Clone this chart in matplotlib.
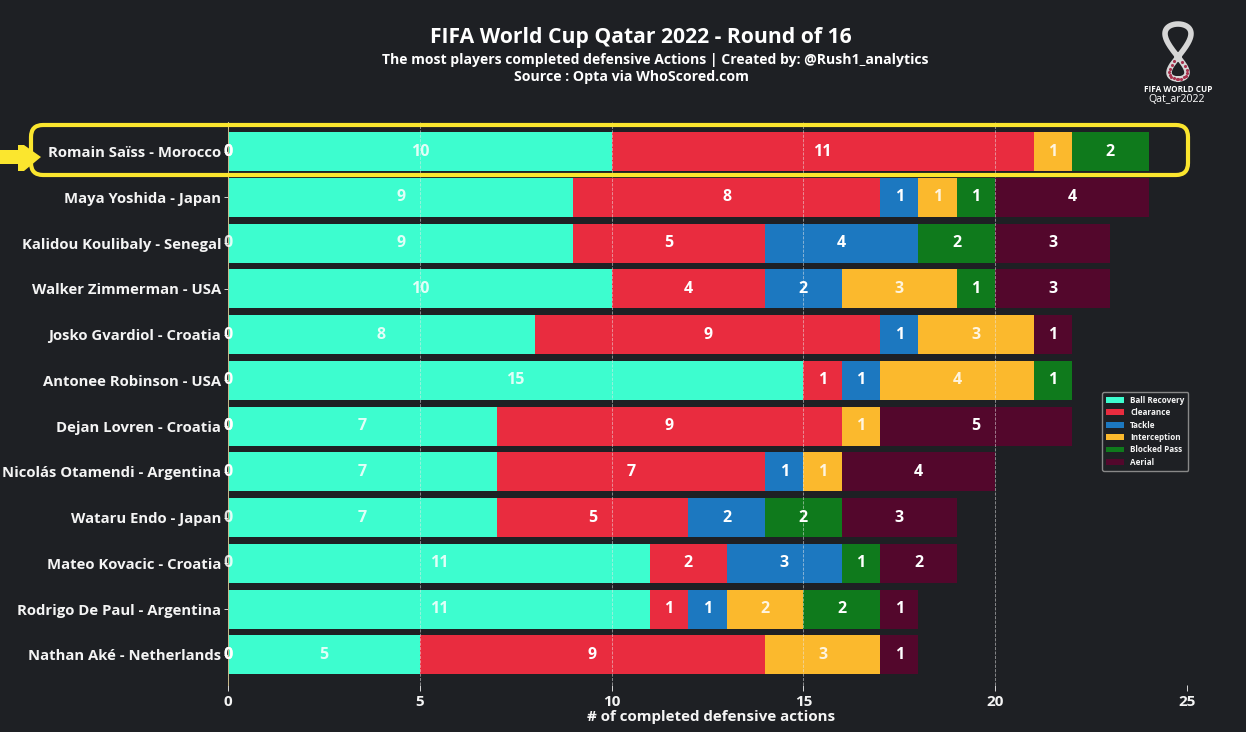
import matplotlib
matplotlib.use('Agg')
import matplotlib.pyplot as plt
import numpy as np
from matplotlib.patches import FancyBboxPatch, Polygon, Rectangle

plt.rcParams['font.family'] = ['Open Sans', 'DejaVu Sans']
plt.rcParams['font.weight'] = 'bold'

players = ["Romain Saïss - Morocco", "Maya Yoshida - Japan", "Kalidou Koulibaly - Senegal",
           "Walker Zimmerman - USA", "Josko Gvardiol - Croatia", "Antonee Robinson - USA",
           "Dejan Lovren - Croatia", "Nicolás Otamendi - Argentina", "Wataru Endo - Japan",
           "Mateo Kovacic - Croatia", "Rodrigo De Paul - Argentina", "Nathan Aké - Netherlands"]
ball_recovery = [10, 9, 9, 10, 8, 15, 7, 7, 7, 11, 11, 5]
clearance = [11, 8, 5, 4, 9, 1, 9, 7, 5, 2, 1, 9]
tackle = [0, 1, 4, 2, 1, 1, 0, 1, 2, 3, 1, 0]
interception = [1, 1, 0, 3, 3, 4, 1, 1, 0, 0, 2, 3]
blocked_pass = [2, 1, 2, 1, 0, 1, 0, 0, 2, 1, 2, 0]
aerial = [0, 4, 3, 3, 1, 0, 5, 4, 3, 2, 1, 1]

action_names = ["Ball Recovery", "Clearance", "Tackle", "Interception", "Blocked Pass", "Aerial"]
action_values = [ball_recovery, clearance, tackle, interception, blocked_pass, aerial]
action_colors = ['#3dfdcf', '#e92c3f', '#1c78c0', '#fbb92d', '#0f7a1c', '#53072c']

W, H = 1246, 732
BG = '#1e2024'
TXT = '#f4f4f4'

fig = plt.figure(figsize=(W / 100, H / 100), dpi=100, facecolor=BG)
# axes box in pixels: x=0 at 228, x=25 at 1187
ax = fig.add_axes([228 / W, 1 - 685 / H, (1187 - 228) / W, (685 - 122) / H], facecolor=BG)

y = np.arange(len(players))
left = np.zeros(len(players))
for name, vals, col in zip(action_names, action_values, action_colors):
    vals = np.array(vals)
    ax.barh(y, vals, left=left, height=0.85, color=col, label=name, linewidth=0)
    for i, v in enumerate(vals):
        xpos = left[i] + v / 2 if v > 0 else 0
        ax.text(xpos, y[i], str(v), color='white', fontsize=11.5, ha='center', va='center',
                alpha=0.85 if col in ('#3dfdcf', '#fbb92d') else 1)
    left += vals

ax.set_xlim(0, 25)
ax.set_ylim(len(players) - 1 + 0.66, -0.65)
ax.set_yticks(y)
ax.set_yticklabels(players, color=TXT, fontsize=10.7)
ax.set_xticks(range(0, 26, 5))
ax.tick_params(axis='x', colors=TXT, labelsize=11, length=4, pad=3, width=0.6)
ax.tick_params(axis='y', colors=TXT, length=3, width=0.6, pad=2)
ax.set_xlabel("# of completed defensive actions", color=TXT, fontsize=10.9, fontweight='bold')
ax.xaxis.set_label_coords((711 - 228) / (1187 - 228), -0.045)
ax.grid(axis='x', color='#e8e8e8', linestyle='--', linewidth=0.6, alpha=0.6)
for s in ['top', 'right', 'bottom']:
    ax.spines[s].set_visible(False)
ax.spines['left'].set_color('#c9b98a')
ax.spines['left'].set_linewidth(0.7)

leg = ax.legend(loc='upper left', bbox_to_anchor=((1102 - 228) / (1187 - 228), (685 - 392) / (685 - 122)),
                fontsize=5.9, facecolor=BG, edgecolor='#888888', labelcolor=TXT, framealpha=1,
                borderaxespad=0, borderpad=0.45, labelspacing=0.42, handlelength=2.2, handletextpad=0.8)

fig.text(641 / W, 1 - 37 / H, "FIFA World Cup Qatar 2022 - Round of 16", color='white', fontsize=15.2,
         ha='center', va='center', fontweight='bold')
fig.text(655 / W, 1 - 60 / H, "The most players completed defensive Actions | Created by: @Rush1_analytics",
         color='white', fontsize=10.1, ha='center', va='center', fontweight='bold')
fig.text(632 / W, 1 - 77 / H, "Source : Opta via WhoScored.com", color='white', fontsize=10.2,
         ha='center', va='center', fontweight='bold')

# overlay in pixel coords for the highlight, arrow and logo
ov = fig.add_axes([0, 0, 1, 1], facecolor='none')
ov.set_xlim(0, W)
ov.set_ylim(H, 0)
ov.axis('off')
ov.add_patch(FancyBboxPatch((31, 125), 1157, 50, boxstyle="round,pad=0,rounding_size=12",
                            fill=False, edgecolor='#fbe62e', linewidth=3))
ov.add_patch(Rectangle((0, 150), 20, 14, color='#fbe62e', lw=0))
ov.add_patch(Polygon([(18, 145), (24, 145), (41, 157), (24, 171), (18, 171)], color='#fbe62e', lw=0))

# logo: vertical figure eight, wider loop on top
t = np.linspace(0, 2 * np.pi, 300)
top = np.cos(t) < 0
lx = 1178 + np.where(top, 13, 9) * np.sin(2 * t)
ly = 57 + np.where(top, 33, 22) * (-np.abs(np.cos(t)) * top + np.abs(np.cos(t)) * ~top)
ov.plot(lx, ly, color='#d6d6d6', lw=4, solid_capstyle='round')
low = ly > 60
ov.scatter(lx[low][::9], ly[low][::9], s=5, color='#a8324e', lw=0, zorder=3)
ov.text(1178, 90, "FIFA WORLD CUP", color='white', fontsize=5.9, ha='center', va='center', fontweight='bold')
ov.text(1177, 99, "Qat_ar2022", color='white', fontsize=7.6, ha='center', va='center', fontweight='normal')

fig.savefig('out.png', dpi=100, facecolor=BG)
